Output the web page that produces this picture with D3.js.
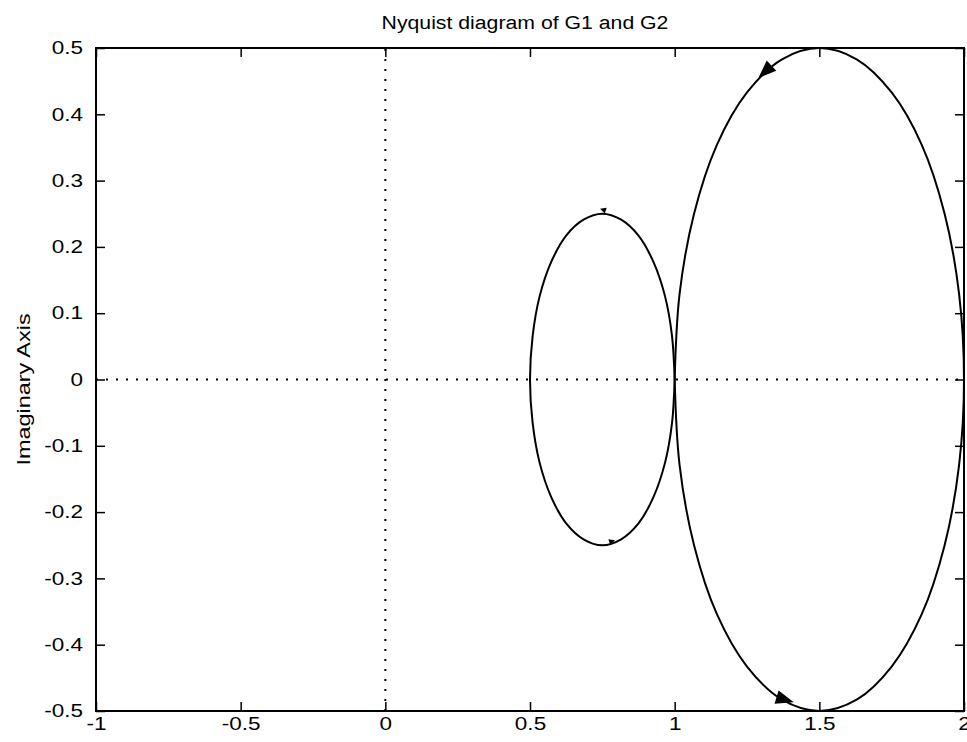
<!DOCTYPE html>
<html>
<head>
<meta charset="utf-8">
<script src="https://cdn.jsdelivr.net/npm/d3@7"></script>
<style>
  body { margin: 0; background: #fff; }
  svg text { font-family: "Liberation Sans", Arial, sans-serif; fill: #000; }
</style>
</head>
<body>
<div id="chart"></div>
<script>
// Nyquist diagram of G1 and G2
var g1Re = [1.0, 0.991, 0.967, 0.927, 0.875, 0.815, 0.75, 0.685, 0.625, 0.573, 0.533, 0.509, 0.5,
            0.509, 0.533, 0.573, 0.625, 0.685, 0.75, 0.815, 0.875, 0.927, 0.967, 0.991, 1.0];
var g1Im = [0, 0.065, 0.125, 0.177, 0.217, 0.241, 0.25, 0.241, 0.217, 0.177, 0.125, 0.065, 0,
            -0.065, -0.125, -0.177, -0.217, -0.241, -0.25, -0.241, -0.217, -0.177, -0.125, -0.065, 0];

var g2Re = [1.0, 1.017, 1.067, 1.146, 1.25, 1.371, 1.5, 1.629, 1.75, 1.854, 1.933, 1.983, 2.0,
            1.983, 1.933, 1.854, 1.75, 1.629, 1.5, 1.371, 1.25, 1.146, 1.067, 1.017, 1.0];
var g2Im = [0, -0.129, -0.25, -0.354, -0.433, -0.483, -0.5, -0.483, -0.433, -0.354, -0.25, -0.129, 0,
            0.129, 0.25, 0.354, 0.433, 0.483, 0.5, 0.483, 0.433, 0.354, 0.25, 0.129, 0];

// arrow markers: which curve, where on it, and size
var arrowCurve = ["g2", "g2", "g1", "g1"];
var arrowRe = [1.312, 1.382, 0.752, 0.784];
var arrowIm = [0.464, -0.483, 0.256, -0.244];
var arrowBig = [true, true, false, false];

var xTicks = [-1, -0.5, 0, 0.5, 1, 1.5, 2];
var yTicks = [-0.5, -0.4, -0.3, -0.2, -0.1, 0, 0.1, 0.2, 0.3, 0.4, 0.5];

var titleText = "Nyquist diagram of G1 and G2";
var yLabelText = "Imaginary Axis";

var width = 967,
    height = 742,
    margin = {top: 48, right: 3, bottom: 31, left: 96},
    innerW = width - margin.left - margin.right,
    innerH = height - margin.top - margin.bottom,
    fontSize = 18,
    tickLen = 9;

var svg = d3.select("#chart").append("svg")
    .attr("width", width)
    .attr("height", height);

var g = svg.append("g")
    .attr("transform", "translate(" + margin.left + "," + margin.top + ")");

var x = d3.scaleLinear().domain([-1, 2]).range([0, innerW]);
var y = d3.scaleLinear().domain([-0.5, 0.5]).range([innerH, 0]);

// dotted zero lines
g.append("line")
    .attr("x1", x(-1)).attr("x2", x(2))
    .attr("y1", y(0)).attr("y2", y(0))
    .attr("stroke", "#000").attr("stroke-width", 2)
    .attr("stroke-dasharray", "2,8");
g.append("line")
    .attr("x1", x(0)).attr("x2", x(0))
    .attr("y1", y(-0.5)).attr("y2", y(0.5))
    .attr("stroke", "#000").attr("stroke-width", 2)
    .attr("stroke-dasharray", "2,8");

function toPoints(re, im) {
    return re.map(function(d, i) { return [d, im[i]]; });
}

var curves = {g1: toPoints(g1Re, g1Im), g2: toPoints(g2Re, g2Im)};

var line = d3.line()
    .curve(d3.curveCatmullRom.alpha(0.5))
    .x(function(d) { return x(d[0]); })
    .y(function(d) { return y(d[1]); });

Object.keys(curves).forEach(function(k) {
    g.append("path")
        .datum(curves[k])
        .attr("d", line)
        .attr("fill", "none")
        .attr("stroke", "#000")
        .attr("stroke-width", 2);
});

// arrows point along the curve, direction taken from the nearest segment
arrowRe.forEach(function(re, i) {
    var pts = curves[arrowCurve[i]];
    var px = x(re), py = y(arrowIm[i]);
    var best = 0, bestD = Infinity;
    for (var j = 0; j < pts.length - 1; j++) {
        var mx = (x(pts[j][0]) + x(pts[j + 1][0])) / 2,
            my = (y(pts[j][1]) + y(pts[j + 1][1])) / 2;
        var dd = (mx - px) * (mx - px) + (my - py) * (my - py);
        if (dd < bestD) { bestD = dd; best = j; }
    }
    var dx = x(pts[best + 1][0]) - x(pts[best][0]),
        dy = y(pts[best + 1][1]) - y(pts[best][1]);
    var ang = Math.atan2(dy, dx) * 180 / Math.PI;
    var len = arrowBig[i] ? 18 : 6,
        hw = arrowBig[i] ? 7 : 3;
    g.append("path")
        .attr("d", "M" + (len / 2) + ",0L" + (-len / 2) + "," + (-hw) + "L" + (-len / 2) + "," + hw + "Z")
        .attr("fill", "#000")
        .attr("transform", "translate(" + px + "," + py + ") rotate(" + ang + ")");
});

// axes: ticks inward on all four sides, labels on bottom and left
function styleAxis(sel) {
    sel.select(".domain").remove();
    sel.selectAll(".tick line").attr("stroke", "#000").attr("stroke-width", 1.5);
    sel.selectAll("text").attr("font-size", fontSize);
}

g.append("g")
    .attr("transform", "translate(0," + innerH + ")")
    .call(d3.axisBottom(x).tickValues(xTicks).tickSizeInner(-tickLen).tickSizeOuter(0).tickPadding(6)
        .tickFormat(function(d) { return d; }))
    .call(styleAxis)
    .selectAll("text")
    .attr("textLength", function() { return this.getComputedTextLength() * 1.25; })
    .attr("lengthAdjust", "spacingAndGlyphs");

g.append("g")
    .call(d3.axisLeft(y).tickValues(yTicks).tickSizeInner(-tickLen).tickSizeOuter(0).tickPadding(13)
        .tickFormat(function(d) { return d; }))
    .call(styleAxis)
    .selectAll("text")
    .attr("textLength", function() { return this.getComputedTextLength() * 1.25; })
    .attr("lengthAdjust", "spacingAndGlyphs");

g.append("g")
    .call(d3.axisTop(x).tickValues(xTicks).tickSizeInner(-tickLen).tickSizeOuter(0).tickFormat(""))
    .call(styleAxis);

g.append("g")
    .attr("transform", "translate(" + innerW + ",0)")
    .call(d3.axisRight(y).tickValues(yTicks).tickSizeInner(-tickLen).tickSizeOuter(0).tickFormat(""))
    .call(styleAxis);

// box
g.append("rect")
    .attr("x", 0).attr("y", 0)
    .attr("width", innerW).attr("height", innerH)
    .attr("fill", "none")
    .attr("stroke", "#000")
    .attr("stroke-width", 2);

// title
var title = svg.append("text")
    .attr("x", margin.left + innerW / 2 - 5)
    .attr("y", 29)
    .attr("text-anchor", "middle")
    .attr("font-size", fontSize)
    .text(titleText);
title.attr("textLength", title.node().getComputedTextLength() * 1.18)
    .attr("lengthAdjust", "spacingAndGlyphs");

// y axis label
var yLabel = svg.append("text")
    .attr("transform", "translate(30," + (margin.top + innerH / 2 + 10) + ") rotate(-90)")
    .attr("text-anchor", "middle")
    .attr("font-size", fontSize)
    .text(yLabelText);
yLabel.attr("textLength", yLabel.node().getComputedTextLength() * 1.3)
    .attr("lengthAdjust", "spacingAndGlyphs");
</script>
</body>
</html>
